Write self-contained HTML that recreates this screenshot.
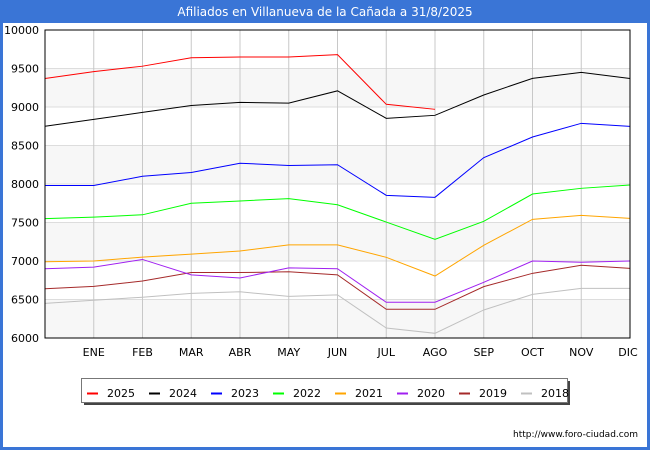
<!DOCTYPE html>
<html><head><meta charset="utf-8"><style>
body{margin:0;background:#fff;}
svg{display:block;font-family:"DejaVu Sans","Liberation Sans",sans-serif;}
</style></head><body>
<svg id="c" width="650" height="450">
<rect x="0" y="0" width="650" height="450" fill="#3a75d6"/>
<rect x="3" y="23" width="644" height="424" fill="#fff"/>
<text x="325" y="16" fill="#fff" font-size="12" text-anchor="middle">Afiliados en Villanueva de la Cañada a 31/8/2025</text>
<g id="bands"></g><g id="grid"></g><g id="series"></g><g id="axes"></g>
<text x="638" y="437" font-size="9" text-anchor="end" fill="#000">http://www.foro-ciudad.com</text>
<g id="legend"></g>
</svg>
<script>
const months=["","ENE","FEB","MAR","ABR","MAY","JUN","JUL","AGO","SEP","OCT","NOV","DIC"];
const yTicks=[6000,6500,7000,7500,8000,8500,9000,9500,10000];
const years=["2025","2024","2023","2022","2021","2020","2019","2018"];
const colors=["#ff0000","#000000","#0000ff","#00ff00","#ffa500","#a020f0","#a52a2a","#c0c0c0"];
const s2025=[9370,9460,9530,9640,9650,9650,9680,9035,8970];
const s2024=[8750,8840,8930,9020,9060,9050,9210,8853,8892,9156,9372,9450,9370];
const s2023=[7980,7980,8100,8150,8270,8240,8250,7853,7827,8342,8610,8788,8749];
const s2022=[7550,7570,7600,7750,7780,7810,7730,7506,7282,7515,7870,7944,7987];
const s2021=[6990,7000,7050,7090,7130,7210,7210,7048,6805,7204,7541,7593,7554];
const s2020=[6900,6920,7020,6820,6780,6910,6900,6464,6464,6723,7000,6983,7000];
const s2019=[6640,6670,6740,6850,6850,6860,6820,6373,6373,6667,6840,6944,6905];
const s2018=[6450,6490,6530,6580,6600,6540,6560,6130,6061,6364,6567,6645,6645];
const series=[s2025,s2024,s2023,s2022,s2021,s2020,s2019,s2018];
const NS="http://www.w3.org/2000/svg";
const X0=45,X1=630,Y0=338,Y1=30,YMIN=6000,YMAX=10000;
const xs=i=>X0+i*(X1-X0)/(months.length-1);
const ys=v=>Y0-(v-YMIN)*(Y0-Y1)/(YMAX-YMIN);
function mk(t,a,p){const e=document.createElementNS(NS,t);for(const k in a)e.setAttribute(k,a[k]);p.appendChild(e);return e;}
const bands=document.getElementById('bands'),grid=document.getElementById('grid'),ser=document.getElementById('series'),axes=document.getElementById('axes'),leg=document.getElementById('legend');
for(let i=0;i<yTicks.length-1;i++){
  if(i%2===0){const r=mk('rect',{x:X0,y:ys(yTicks[i+1]),width:X1-X0,height:ys(yTicks[i])-ys(yTicks[i+1]),fill:'#f7f7f7'},bands);
  
  }
}
yTicks.forEach(v=>{
  const l=mk('line',{x1:X0,x2:X1,y1:ys(v),y2:ys(v),stroke:'#dddddd','stroke-width':1},grid);
  
  
  const t=mk('text',{x:39,y:ys(v)+4,'font-size':11,'text-anchor':'end',fill:'#000'},axes);
  t.textContent=v;
  
  
});
months.forEach((m,i)=>{
  if(i>0){const l=mk('line',{x1:xs(i),x2:xs(i),y1:Y1,y2:Y0,stroke:'#c8c8c8','stroke-width':1},grid);
  
  }
  if(m){const t=mk('text',{x:i===months.length-1?xs(i)-2:xs(i),y:356,'font-size':11,'text-anchor':'middle',fill:'#000'},axes);
  t.textContent=m;
  
  }
});
const fr=mk('rect',{x:X0,y:Y1,width:X1-X0,height:Y0-Y1,fill:'none',stroke:'#000','stroke-width':1},axes);


for(let k=series.length-1;k>=0;k--){
  const pts=series[k].map((v,i)=>xs(i)+','+ys(v)).join(' ');
  const p=mk('polyline',{points:pts,fill:'none',stroke:colors[k],'stroke-width':1},ser);
  
  
}
const sh=mk('rect',{x:84,y:381,width:486,height:24,fill:'#444'},leg);


const lb=mk('rect',{x:81.5,y:378.5,width:486,height:24,fill:'#fff',stroke:'#777','stroke-width':1},leg);


years.forEach((y,k)=>{
  const bx=87+k*62;
  const g=mk('g',{},leg);
  
  
  mk('line',{x1:bx,x2:bx+11,y1:393.5,y2:393.5,stroke:colors[k],'stroke-width':2},g);
  const t=mk('text',{x:bx+20,y:397,'font-size':11,fill:'#000'},g);
  t.textContent=y;
});
</script>
</body></html>
